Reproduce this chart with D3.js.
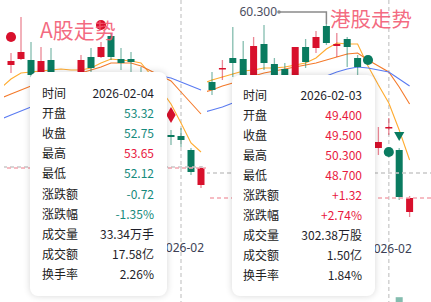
<!DOCTYPE html>
<html>
<head>
<meta charset="utf-8">
<script src="https://cdn.jsdelivr.net/npm/d3@7"></script>
<style>
  body { margin: 0; background: #fff; font-family: "Noto Sans CJK SC", "Noto Sans", sans-serif; }
  #wrap { position: relative; width: 431px; height: 302px; overflow: hidden; }
  .tip { position: absolute; background: #fff; border-radius: 8px; box-shadow: 0 0 7px rgba(0,0,0,.16); font-size: 12px; color: #222; }
  .tip .row { position: absolute; height: 20px; line-height: 20px; }
  .tip .v { position: absolute; right: 0; top: 0; white-space: nowrap; }
</style>
</head>
<body>
<div id="wrap"></div>
<script>
// A股 candles (index 0..19)
var openA  = [58.48,58.96,58.88,57.60,58.88,57.44,56.32,57.44,59.12,59.12,60.80,58.96,58.96,57.28,56.08,54.88,52.88,52.80,51.68,48.88]
var closeA = [58.80,59.52,57.68,58.80,57.60,56.64,57.28,58.88,58.24,59.92,59.12,58.64,58.72,56.08,54.88,53.92,52.72,52.48,49.92,50.24]
var highA  = [59.44,62.32,60.32,59.92,59.84,57.76,57.60,59.28,59.84,60.32,61.04,59.84,59.52,58.32,56.48,55.28,53.28,53.44,51.84,50.40]
var lowA   = [57.84,58.88,57.52,57.44,57.28,56.32,56.08,57.28,57.92,59.04,58.88,58.08,57.52,55.68,54.48,53.68,52.08,51.92,49.68,48.64]
// moving averages start one bar before the first visible candle
var ma5A  = [56.64,57.36,57.84,57.92,58.00,58.08,58.16,58.08,58.08,58.24,58.64,58.96,58.88,58.80,58.64,57.68,56.48,55.36,53.84,52.24,51.52]
var ma10A = [55.84,56.16,56.48,56.80,57.12,57.36,57.52,57.68,57.84,58.08,58.32,58.64,58.64,58.64,58.40,58.00,57.60,57.20,56.32,55.44,54.56]
var ma20A = [54.16,54.48,54.80,55.12,55.36,55.60,55.84,56.08,56.32,56.56,56.80,57.04,57.28,57.44,57.52,57.60,57.60,57.44,57.12,56.80,56.48]
var marksA = [{i: 0, v: 60.72, shape: 'circle'}, {i: 9, v: 61.68, shape: 'circle'}, {i: 16, v: 54.48, shape: 'diamond'}]

// 港股 candles
var openB  = [53.30,54.60,55.70,55.60,53.00,57.10,55.10,54.60,53.30,56.80,56.70,58.90,56.90,57.60,55.70,53.50,46.70,48.70,46.50,40.30]
var closeB = [52.50,54.70,55.20,53.50,56.90,55.20,53.50,53.80,56.80,55.30,57.80,57.20,57.10,56.80,54.80,51.50,47.30,48.80,41.80,41.70]
var highB  = [54.30,55.50,58.80,57.40,57.80,59.00,55.70,55.20,56.80,57.60,58.40,59.10,58.20,57.80,56.00,53.70,48.80,49.70,46.70,41.90]
var lowB   = [52.00,53.50,53.80,53.10,52.70,54.50,53.10,53.50,53.00,54.70,56.20,57.00,55.80,54.80,53.80,51.00,46.00,48.00,41.50,39.80]
var volB   = [2,1.5,2.5,2,3,2.5,1.8,1.2,2.8,2,1.5,2.2,1.6,1.8,2,2.4,2.6,1.9,8.2,3]
var ma5B  = [53.10,53.50,53.80,54.10,54.40,54.50,54.70,54.70,54.80,55.00,55.20,55.70,56.60,57.20,57.10,57.10,54.90,53.00,51.20,48.50,45.50]
var ma10B = [52.20,52.50,52.90,53.20,53.60,53.90,54.20,54.40,54.60,54.80,55.00,55.20,55.50,55.80,56.10,56.20,55.50,54.90,54.30,52.80,51.10]
var ma20B = [50.20,50.50,50.80,51.20,51.50,51.80,52.10,52.40,52.70,53.00,53.30,53.60,53.90,54.30,54.60,54.80,54.70,54.50,54.30,53.60,52.90]
var marksB = [{i: 15, v: 55.50, shape: 'circle'}, {i: 17, v: 46.30, shape: 'circle'}, {i: 18, v: 48.00, shape: 'down'}]
var maxB = 60.3

var tipLabels = ['时间','开盘','收盘','最高','最低','涨跌额','涨跌幅','成交量','成交额','换手率']
var tipA = ['2026-02-04','53.32','52.75','53.65','52.12','-0.72','-1.35%','33.34万手','17.58亿','2.26%']
var tipB = ['2026-02-03','49.400','49.500','50.300','48.700','+1.32','+2.74%','302.38万股','1.50亿','1.84%']
var tipColA = ['k','g','g','r','g','g','g','k','k','k']
var tipColB = ['k','r','r','r','r','r','r','k','k','k']

var red = '#d8102c', green = '#0a7b60'
var maColors = ['#ffac30', '#f47a2b', '#5b7cf2']
var tipColor = {k: '#1e1e2a', g: '#168a7c', r: '#e8193e'}

var svg = d3.select('#wrap').append('svg').attr('width', 431).attr('height', 302)
var defs = svg.append('defs')

function panel(o){
  var x = o.x, y = o.y
  defs.append('clipPath').attr('id', o.id)
    .append('rect').attr('x', o.clip[0]).attr('y', 0).attr('width', o.clip[1] - o.clip[0]).attr('height', 302)
  var g = svg.append('g').attr('clip-path', 'url(#' + o.id + ')')

  // month boundary
  g.append('line')
    .attr('x1', x(17)).attr('x2', x(17)).attr('y1', 0).attr('y2', 302)
    .attr('stroke', '#d2d2d2').attr('stroke-width', 1.5).attr('stroke-dasharray', '4,3')

  var ax = g.append('g').attr('transform', 'translate(0,' + o.axisY + ')')
    .call(d3.axisBottom(x).tickValues([17]).tickFormat(() => '2026-02').tickSize(0))
  ax.select('.domain').remove()
  ax.selectAll('text').attr('font-size', 12).attr('fill', '#3c3f55')
    .attr('font-family', '"Noto Sans", sans-serif')

  if (o.vol){
    var yv = d3.scaleLinear().domain([0, 10]).range([330, 290])
    g.selectAll('rect.vol').data(o.vol).join('rect')
      .attr('x', (d, i) => x(i) - 3.5).attr('width', 7)
      .attr('y', d => yv(d)).attr('height', d => 330 - yv(d))
      .attr('fill', (d, i) => o.close[i] >= o.open[i] ? red : green).attr('opacity', 0.5)
  }

  ;[o.ma5, o.ma10, o.ma20].forEach((arr, k) => {
    g.append('path').datum(arr)
      .attr('d', d3.line().x((d, i) => x(i - 1)).y(d => y(d)))
      .attr('fill', 'none').attr('stroke', maColors[k]).attr('stroke-width', 1.1)
  })

  var idx = d3.range(o.open.length)
  var col = i => o.close[i] >= o.open[i] ? red : green
  g.selectAll('line.wick').data(idx).join('line')
    .attr('x1', i => x(i)).attr('x2', i => x(i))
    .attr('y1', i => y(o.high[i])).attr('y2', i => y(o.low[i]))
    .attr('stroke', col).attr('stroke-opacity', 0.5).attr('stroke-width', 1.3)
  g.selectAll('rect.body').data(idx).join('rect')
    .attr('x', i => x(i) - 3.5).attr('width', 7)
    .attr('y', i => Math.min(y(o.open[i]), y(o.close[i])))
    .attr('height', i => Math.max(1.5, Math.abs(y(o.open[i]) - y(o.close[i]))))
    .attr('fill', col)

  // crosshair + last close
  g.append('line').attr('x1', o.clip[0] - 8).attr('x2', o.clip[1] + 8)
    .attr('y1', y(o.cross)).attr('y2', y(o.cross))
    .attr('stroke', '#c9c9c9').attr('stroke-width', 1.3).attr('stroke-dasharray', '4,3')
  g.append('line').attr('x1', o.clip[0] - 8).attr('x2', o.clip[1] + 8)
    .attr('y1', y(o.close[19])).attr('y2', y(o.close[19]))
    .attr('stroke', '#f3a6b0').attr('stroke-width', 1.3).attr('stroke-dasharray', '4,3')
    .attr('stroke-dashoffset', 3)

  var sym = {circle: d3.symbol(d3.symbolCircle, 80), diamond: d3.symbol(d3.symbolDiamond, 75), down: d3.symbol(d3.symbolTriangle, 45)}
  g.selectAll('path.mark').data(o.marks).join('path')
    .attr('d', d => sym[d.shape]())
    .attr('transform', d => 'translate(' + x(d.i) + ',' + y(d.v) + ')' + (d.shape == 'down' ? ' rotate(180)' : ''))
    .attr('fill', o.markColor)
  return g
}

var xA = d3.scaleLinear().domain([0, 19]).range([11, 201])
var yA = d3.scaleLinear().domain([40, 62]).range([296, 21])
panel({id: 'clipA', x: xA, y: yA, clip: [4, 206], axisY: 240,
  open: openA, close: closeA, high: highA, low: lowA,
  ma5: ma5A, ma10: ma10A, ma20: ma20A, marks: marksA, markColor: red, cross: 50.32})

var xB = d3.scaleLinear().domain([0, 19]).range([212, 409.6])
var yB = d3.scaleLinear().domain([40, 61.5]).range([215, 0])
var gB = panel({id: 'clipB', x: xB, y: yB, clip: [207, 431], axisY: 241, vol: volB,
  open: openB, close: closeB, high: highB, low: lowB,
  ma5: ma5B, ma10: ma10B, ma20: ma20B, marks: marksB, markColor: green, cross: 44.2})

// max label on the right chart
var hx = 279
svg.append('path')
  .attr('d', 'M' + hx + ',' + yB(maxB) + 'H' + xB(11) + 'V' + yB(highB[11]))
  .attr('fill', 'none').attr('stroke', '#8a8a8a').attr('stroke-width', 1.5)
svg.append('circle').attr('cx', hx).attr('cy', yB(maxB)).attr('r', 1.8).attr('fill', '#8a8a8a')
svg.append('text').attr('x', hx - 2).attr('y', yB(maxB)).attr('dy', '0.35em')
  .attr('text-anchor', 'end').attr('font-size', 12).attr('fill', '#4a4d60')
  .attr('font-family', '"Noto Sans", sans-serif')
  .text(d3.format('.3f')(maxB))

// titles
svg.append('text').attr('x', 40).attr('y', 38).attr('font-size', 21)
  .attr('fill', '#f2566f').attr('fill-opacity', 0.88).text('A股走势')
svg.append('text').attr('x', 330).attr('y', 27).attr('font-size', 20.5)
  .attr('fill', '#f2566f').attr('fill-opacity', 0.88).text('港股走势')

// tooltips
function tooltip(pos, vals, cols){
  var t = d3.select('#wrap').append('div').attr('class', 'tip')
    .style('left', pos.left + 'px').style('top', pos.top + 'px')
    .style('width', pos.w + 'px').style('height', pos.h + 'px')
  tipLabels.forEach((lab, i) => {
    var r = t.append('div').attr('class', 'row')
      .style('left', pos.padL + 'px').style('right', pos.padR + 'px')
      .style('top', (pos.first + i * 20.1 - 10) + 'px')
    r.append('span').text(lab)
    r.append('span').attr('class', 'v').style('color', tipColor[cols[i]]).text(vals[i])
  })
}
tooltip({left: 30, top: 72, w: 137, h: 224, padL: 12, padR: 13, first: 21}, tipA, tipColA)
tooltip({left: 232, top: 75, w: 143, h: 221, padL: 11, padR: 13, first: 19.5}, tipB, tipColB)
</script>
</body>
</html>
